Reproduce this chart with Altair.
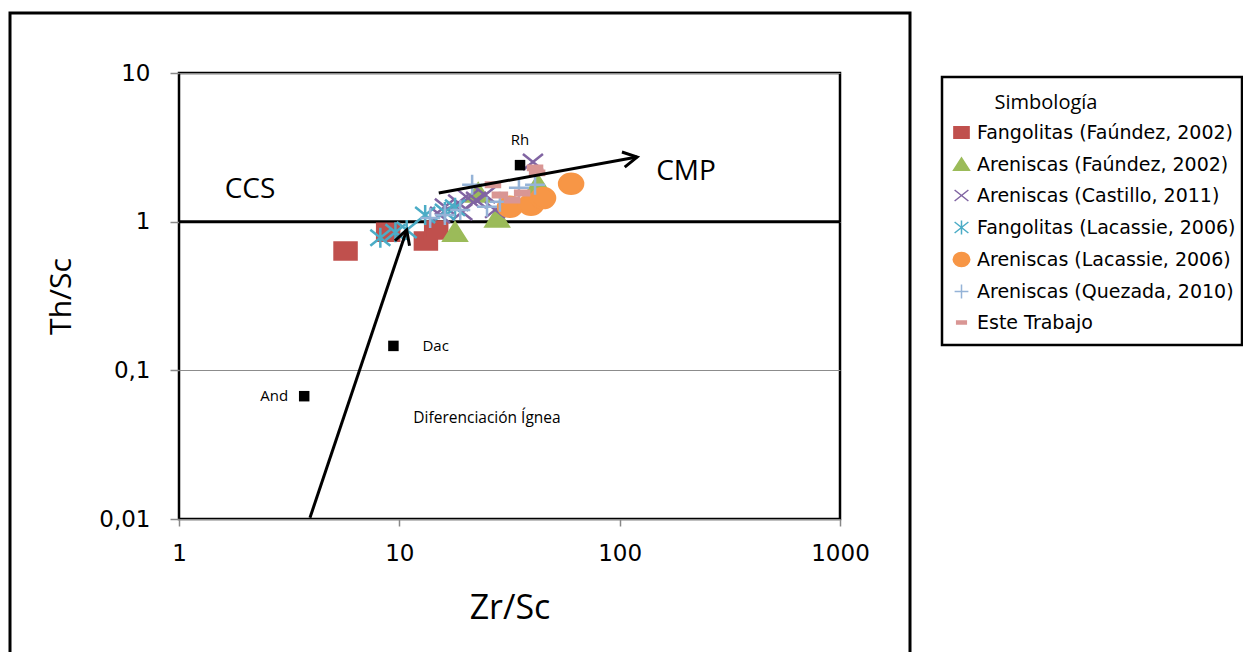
import altair as alt
import pandas as pd

# ---------------- data ----------------
series_names = [
    "Fangolitas (Faúndez, 2002)",
    "Areniscas (Faúndez, 2002)",
    "Areniscas (Castillo, 2011)",
    "Fangolitas (Lacassie, 2006)",
    "Areniscas (Lacassie, 2006)",
    "Areniscas (Quezada, 2010)",
    "Este Trabajo",
]

fang_faundez_zr = [5.7, 8.9, 13.2, 14.7]
fang_faundez_th = [0.635, 0.85, 0.74, 0.88]

aren_faundez_zr = [17.9, 22.8, 27.8, 42.6]
aren_faundez_th = [0.85, 1.56, 1.06, 1.77]

castillo_zr = [15.3, 16.1, 18.5, 19.3, 20.5, 22.3, 24.5, 27.2, 40.4]
castillo_th = [1.11, 1.26, 1.34, 1.16, 1.44, 1.40, 1.51, 1.20, 2.52]

fang_lacassie_zr = [8.2, 9.6, 10.8, 13.1, 16.1, 17.9]
fang_lacassie_th = [0.78, 0.85, 0.88, 1.11, 1.16, 1.24]

aren_lacassie_zr = [31.8, 39.6, 44.9, 60.2]
aren_lacassie_th = [1.26, 1.30, 1.44, 1.80]

quezada_zr = [13.8, 16.1, 18.9, 21.4, 25.0, 28.6, 34.9, 41.3]
quezada_th = [1.06, 1.11, 1.20, 1.77, 1.26, 1.36, 1.69, 1.77]

este_zr = [26.6, 28.6, 32.5, 36.1, 41.3, 42.2]
este_th = [1.77, 1.51, 1.40, 1.56, 2.30, 2.13]

ref_names = ["Rh", "Dac", "And"]
ref_zr = [35.3, 9.4, 3.7]
ref_th = [2.4, 0.146, 0.067]

arrow1_zr = [3.93, 10.8]
arrow1_th = [0.0102, 0.88]
arrow2_zr = [15.1, 120.0]
arrow2_th = [1.56, 2.72]

field_labels = ["CCS", "CMP"]
field_zr = [2.1, 200.0]
field_th = [1.63, 2.16]

igneous_label = ["Diferenciación Ígnea"]
igneous_zr = [25.0]
igneous_th = [0.048]

boundary_th = [1.0]

x_ticks = [1, 10, 100, 1000]
y_ticks = [0.01, 0.1, 1, 10]

# ---------------- styles ----------------
series_colors = ["#C0504D", "#9BBB59", "#8064A2", "#4BACC6", "#F79646", "#95B3D7", "#D99694"]
shape_paths = [
    "M-1.1,-0.85L1.1,-0.85L1.1,0.85L-1.1,0.85Z",                     # square
    "M0,-0.95L1.15,0.85L-1.15,0.85Z",                                 # triangle
    "M-1,-0.8L1,0.8M1,-0.8L-1,0.8",                                   # x
    "M-1,-0.8L1,0.8M1,-0.8L-1,0.8M0,-1L0,1",                          # asterisk
    "M-1.2,0A1.2,1,0,1,0,1.2,0A1.2,1,0,1,0,-1.2,0Z",                  # circle
    "M-1,0L1,0M0,-1L0,1",                                             # plus
    "M-0.7,-0.22L0.7,-0.22L0.7,0.22L-0.7,0.22Z",                      # dash
]
TXT = "Open Sans"
NUM = "DejaVu Sans"

# ---------------- tables ----------------
series_zr = [fang_faundez_zr, aren_faundez_zr, castillo_zr, fang_lacassie_zr,
             aren_lacassie_zr, quezada_zr, este_zr]
series_th = [fang_faundez_th, aren_faundez_th, castillo_th, fang_lacassie_th,
             aren_lacassie_th, quezada_th, este_th]
df = pd.concat(
    [pd.DataFrame({"serie": n, "zr": z, "th": t}) for n, z, t in zip(series_names, series_zr, series_th)],
    ignore_index=True,
)
ref_df = pd.DataFrame({"name": ref_names, "zr": ref_zr, "th": ref_th})
arrows_df = pd.concat([
    pd.DataFrame({"arrow": "a1", "zr": arrow1_zr, "th": arrow1_th, "o": range(len(arrow1_zr))}),
    pd.DataFrame({"arrow": "a2", "zr": arrow2_zr, "th": arrow2_th, "o": range(len(arrow2_zr))}),
], ignore_index=True)
head1_df = pd.DataFrame({"zr": [arrow1_zr[-1]], "th": [arrow1_th[-1]]})
head2_df = pd.DataFrame({"zr": [arrow2_zr[-1]], "th": [arrow2_th[-1]]})
field_df = pd.DataFrame({"label": field_labels, "zr": field_zr, "th": field_th})
igneous_df = pd.DataFrame({"label": igneous_label, "zr": igneous_zr, "th": igneous_th})
boundary_df = pd.DataFrame({"th": boundary_th})
one = pd.DataFrame({"a": [0]})

x_scale = alt.Scale(type="log", domain=[1, 1000])
y_scale = alt.Scale(type="log", domain=[0.01, 10])

x_axis = alt.Axis(
    values=x_ticks, format="d", title="Zr/Sc",
    titleFont=TXT, titleFontSize=34, titleFontWeight="normal", titleColor="black", titlePadding=26,
    labelFont=NUM, labelFontSize=23, labelColor="black", labelPadding=16, labelFlush=False,
    tickColor="#888888", tickSize=7, tickWidth=1.5, domain=False, grid=False,
)
y_axis = alt.Axis(
    values=y_ticks, labelExpr="replace(format(datum.value, '~g'), '.', ',')", title="Th/Sc",
    titleFont=TXT, titleFontSize=30, titleFontWeight="normal", titleColor="black", titlePadding=22,
    labelFont=NUM, labelFontSize=23, labelColor="black", labelPadding=20,
    tickColor="#888888", tickSize=9, tickWidth=1.5, domain=False,
    grid=True, gridColor="#8c8c8c", gridWidth=1,
)


def X():
    return alt.X("zr:Q", scale=x_scale, axis=x_axis)


def Y():
    return alt.Y("th:Q", scale=y_scale, axis=y_axis)


leg = alt.Legend(
    title=None, orient="none", legendX=773, legendY=50,
    labelFont=NUM, labelFontSize=19, labelColor="black", labelOffset=6, labelLimit=400,
    symbolSize=190, symbolStrokeWidth=1.5, rowPadding=11,
)

# ---------------- layers ----------------
frame = alt.Chart(one).mark_rect(filled=False, stroke="black", strokeWidth=3).encode(
    x=alt.value(-169), x2=alt.value(731), y=alt.value(-60), y2=alt.value(620)
)
legend_box = alt.Chart(one).mark_rect(filled=False, stroke="black", strokeWidth=2.5).encode(
    x=alt.value(763), x2=alt.value(1063), y=alt.value(4), y2=alt.value(272)
)
legend_title = alt.Chart(one).mark_text(
    text="Simbología", font=TXT, fontSize=20, color="black", align="center", baseline="middle"
).encode(x=alt.value(867), y=alt.value(30))

boundary = alt.Chart(boundary_df).mark_rule(color="black", strokeWidth=3).encode(y=Y())

points = alt.Chart(df).mark_point(filled=False, size=400, strokeWidth=2.5, opacity=1).encode(
    x=X(), y=Y(),
    shape=alt.Shape("serie:N", scale=alt.Scale(domain=series_names, range=shape_paths), legend=leg),
    fill=alt.Fill("serie:N", scale=alt.Scale(domain=series_names, range=series_colors), legend=leg),
    stroke=alt.Stroke("serie:N", scale=alt.Scale(domain=series_names, range=series_colors), legend=leg),
)

refs = alt.Chart(ref_df).mark_point(shape="square", filled=True, color="black", size=110, opacity=1).encode(
    x=X(), y=Y()
)

shafts = alt.Chart(arrows_df).mark_line(color="black", strokeWidth=3).encode(
    x=X(), y=Y(), detail="arrow:N", order="o:Q"
)
chevron = "M-0.55,1L0,0L0.55,1"
head1 = alt.Chart(head1_df).mark_point(
    shape=chevron, size=784, angle=18.6, filled=False, stroke="black", strokeWidth=3, opacity=1
).encode(x=X(), y=Y())
head2 = alt.Chart(head2_df).mark_point(
    shape=chevron, size=784, angle=79.7, filled=False, stroke="black", strokeWidth=3, opacity=1
).encode(x=X(), y=Y())

text_base = dict(font=TXT, fontSize=15, color="black", baseline="middle")
rh_text = alt.Chart(ref_df[ref_df["name"] == "Rh"]).mark_text(align="center", dy=-25, **text_base).encode(
    x=X(), y=Y(), text="name:N")
dac_text = alt.Chart(ref_df[ref_df["name"] == "Dac"]).mark_text(align="left", dx=29, **text_base).encode(
    x=X(), y=Y(), text="name:N")
and_text = alt.Chart(ref_df[ref_df["name"] == "And"]).mark_text(align="right", dx=-16, **text_base).encode(
    x=X(), y=Y(), text="name:N")

field_text = alt.Chart(field_df).mark_text(font=TXT, fontSize=28, color="black", align="center",
                                           baseline="middle").encode(x=X(), y=Y(), text="label:N")
igneous_text = alt.Chart(igneous_df).mark_text(font=TXT, fontSize=15.5, color="black", align="center",
                                               baseline="middle").encode(x=X(), y=Y(), text="label:N")

chart = alt.layer(
    frame, legend_box, legend_title, boundary, points, refs, shafts, head1, head2,
    rh_text, dac_text, and_text, field_text, igneous_text,
).properties(
    width=661, height=446,
    autosize=alt.AutoSizeParams(type="none"),
    padding={"left": 171, "top": 65, "right": 403, "bottom": 133},
    background="white",
).configure_view(stroke="black", strokeWidth=2.5)

chart.save("out.html", embed_options={"renderer": "svg", "actions": False})
